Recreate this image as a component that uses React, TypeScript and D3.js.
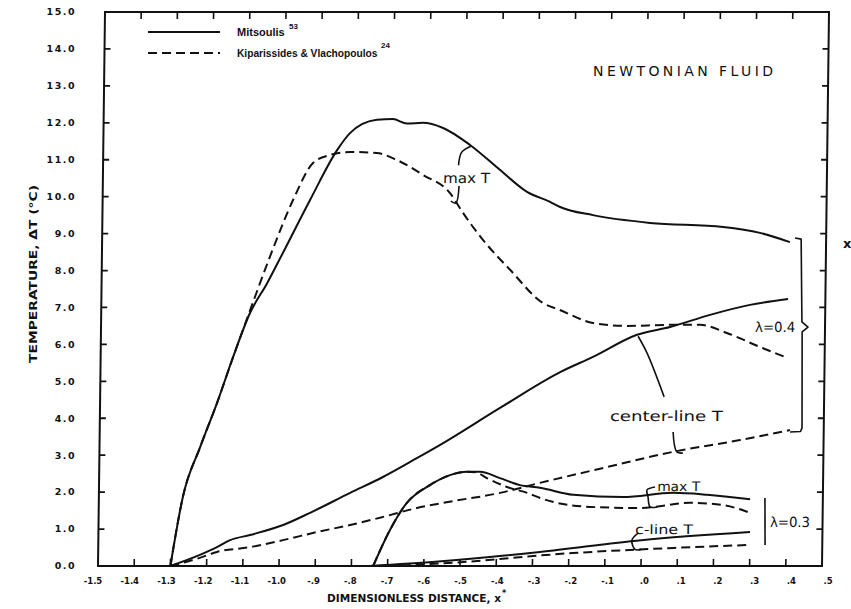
import React from "react";
import * as d3 from "d3";

type P = [number, number];

const W = 851;
const H = 609;

// ---- axis ticks ----
const xTickValues = [-1.5, -1.4, -1.3, -1.2, -1.1, -1.0, -0.9, -0.8, -0.7, -0.6, -0.5, -0.4, -0.3, -0.2, -0.1, 0.0, 0.1, 0.2, 0.3, 0.4, 0.5];
const xTickLabels = ["-1.5", "-1.4", "-1.3", "-1.2", "-1.1", "-1.0", "-.9", "-.8", "-.7", "-.6", "-.5", "-.4", "-.3", "-.2", "-.1", ".0", ".1", ".2", ".3", ".4", ".5"];
const yTickValues = [0, 1, 2, 3, 4, 5, 6, 7, 8, 9, 10, 11, 12, 13, 14, 15];
const yTickLabels = ["0.0", "1.0", "2.0", "3.0", "4.0", "5.0", "6.0", "7.0", "8.0", "9.0", "10.0", "11.0", "12.0", "13.0", "14.0", "15.0"];

// ---- series (x*, ΔT) ----
const maxT04Mitsoulis: P[] = [
  [-1.30, 0], [-1.268, 1.87], [-1.222, 3.22], [-1.177, 4.41], [-1.134, 5.66], [-1.089, 6.85],
  [-1.043, 7.65], [-1.0, 8.48], [-0.927, 9.91], [-0.854, 11.26], [-0.819, 11.72], [-0.745, 12.08],
  [-0.701, 12.1], [-0.662, 11.98], [-0.618, 12.0], [-0.562, 11.86], [-0.487, 11.4], [-0.403, 10.72],
  [-0.328, 10.13], [-0.264, 9.86], [-0.236, 9.72], [-0.145, 9.5], [0.013, 9.29], [0.215, 9.18],
  [0.317, 9.02], [0.40, 8.77],
];
const maxT04Kiparissides: P[] = [
  [-1.30, 0], [-1.268, 1.87], [-1.222, 3.22], [-1.177, 4.41], [-1.134, 5.66], [-1.095, 6.75],
  [-1.036, 8.37], [-0.974, 9.91], [-0.92, 10.91], [-0.873, 11.13], [-0.818, 11.21], [-0.744, 11.18],
  [-0.688, 10.99], [-0.616, 10.59], [-0.541, 10.1], [-0.504, 9.56], [-0.448, 8.83], [-0.372, 8.02],
  [-0.28, 7.12], [-0.233, 6.93], [-0.141, 6.58], [-0.047, 6.5], [0.072, 6.53], [0.155, 6.53],
  [0.229, 6.31], [0.321, 5.93], [0.399, 5.63],
];
const centerT04Mitsoulis: P[] = [
  [-1.30, 0], [-1.219, 0.3], [-1.172, 0.51], [-1.136, 0.7], [-1.081, 0.84], [-0.99, 1.11],
  [-0.916, 1.44], [-0.806, 1.98], [-0.716, 2.41], [-0.623, 2.92], [-0.559, 3.28], [-0.395, 4.28],
  [-0.23, 5.25], [-0.14, 5.66], [-0.019, 6.26], [0.072, 6.47], [0.182, 6.8], [0.292, 7.07], [0.397, 7.23],
];
const centerT04Kiparissides: P[] = [
  [-1.30, 0], [-1.219, 0.22], [-1.172, 0.38], [-1.081, 0.51], [-0.99, 0.7], [-0.896, 0.92],
  [-0.805, 1.11], [-0.714, 1.33], [-0.621, 1.57], [-0.549, 1.71], [-0.392, 1.98], [-0.282, 2.25],
  [-0.097, 2.68], [0.084, 3.09], [0.269, 3.41], [0.407, 3.68],
];
const maxT03Mitsoulis: P[] = [
  [-0.74, 0], [-0.695, 0.97], [-0.649, 1.71], [-0.586, 2.19], [-0.531, 2.46], [-0.484, 2.55],
  [-0.448, 2.55], [-0.393, 2.38], [-0.337, 2.19], [-0.282, 2.12], [-0.19, 1.93], [-0.052, 1.87],
  [0.086, 1.98], [0.18, 1.93], [0.299, 1.81],
];
const maxT03Kiparissides: P[] = [
  [-0.74, 0], [-0.695, 0.97], [-0.649, 1.71], [-0.586, 2.19], [-0.531, 2.46], [-0.484, 2.55],
  [-0.46, 2.54], [-0.429, 2.38], [-0.373, 2.14], [-0.317, 1.98], [-0.281, 1.84], [-0.143, 1.6],
  [-0.005, 1.57], [0.133, 1.71], [0.224, 1.65], [0.299, 1.44],
];
const cline03Mitsoulis: P[] = [[-0.75, 0], [-0.56, 0.12], [-0.28, 0.38], [0.0, 0.7], [0.3, 0.92]];
const cline03Kiparissides: P[] = [[-0.70, 0], [-0.55, 0.07], [-0.19, 0.35], [0.09, 0.49], [0.3, 0.57]];

// ---- annotation geometry (data units) ----
const leaderMaxT04Up: P[] = [[-0.518, 10.85], [-0.51, 11.2], [-0.482, 11.38]];
const leaderMaxT04Down: P[] = [[-0.516, 10.29], [-0.524, 9.83], [-0.538, 9.88]];
const leaderCenterUp: P[] = [[0.058, 4.58], [0.01, 5.75], [-0.016, 6.22]];
const leaderCenterDown: P[] = [[0.084, 3.63], [0.095, 3.09], [0.112, 3.06]];
const bracket04: P[] = [[0.414, 8.88], [0.431, 8.85], [0.436, 6.61], [0.453, 6.47], [0.437, 6.34], [0.44, 3.74], [0.436, 3.64], [0.407, 3.63]];
const hookMaxT03: P[] = [[0.036, 2.14], [0.014, 2.06], [0.017, 1.87], [0.023, 1.6], [0.042, 1.6]];
const hookCline03: P[] = [[-0.009, 0.89], [-0.026, 0.7], [-0.017, 0.45], [0.0, 0.45]];
const bar03: P[] = [[0.34, 1.84], [0.342, 0.57]];

const labels = [
  { text: "max T", at: [-0.56, 10.37] as P, w: 47, size: 14 },
  { text: "center-line T", at: [-0.091, 3.93] as P, w: 113, size: 14 },
  { text: "λ=0.4", at: [0.307, 6.34] as P, w: 40, size: 14 },
  { text: "max T", at: [0.042, 2.03] as P, w: 43, size: 13 },
  { text: "c-line T", at: [-0.018, 0.87] as P, w: 58, size: 13 },
  { text: "λ=0.3", at: [0.355, 1.06] as P, w: 40, size: 14 },
];

const INK = "#111";
const DASH = "9,5";

export default function App() {
  const x = d3.scaleLinear().domain([-1.5, 0.5]).range([98, 822]);
  const y = d3.scaleLinear().domain([0, 15]).range([566, 12]);
  const xLab = d3.scaleLinear().domain([-1.5, 0.5]).range([93, 828]);

  const curve = d3
    .line<P>()
    .x((d) => x(d[0]))
    .y((d) => y(d[1]))
    .curve(d3.curveMonotoneX);
  const smooth = d3
    .line<P>()
    .x((d) => x(d[0]))
    .y((d) => y(d[1]))
    .curve(d3.curveCatmullRom.alpha(0.5));
  const straight = d3
    .line<P>()
    .x((d) => x(d[0]))
    .y((d) => y(d[1]));

  const y0 = y(0);
  const skew = (Math.atan(7 / 554) * 180) / Math.PI;
  const skewT = `translate(0,${y0}) skewX(${-skew}) translate(0,${-y0})`;

  const x0 = x(-1.5);
  const x1 = x(0.5);
  const yTop = y(15);

  const inner = xTickValues.slice(1, -1);
  const innerY = yTickValues.slice(1, -1);

  const solid = [maxT04Mitsoulis, centerT04Mitsoulis, maxT03Mitsoulis, cline03Mitsoulis];
  const dashed = [maxT04Kiparissides, centerT04Kiparissides, maxT03Kiparissides, cline03Kiparissides];

  const tickFont = "'DejaVu Sans', sans-serif";
  const handFont = "'DejaVu Sans', sans-serif";
  const legendFont = "'Liberation Sans', Arial, sans-serif";

  return (
    <svg
      width={W}
      height={H}
      viewBox={`0 0 ${W} ${H}`}
      style={{ position: "absolute", left: 0, top: 0, background: "#fff" }}
    >
      <rect x={0} y={0} width={W} height={H} fill="#fff" />
      <g transform={skewT}>
        {/* frame */}
        <path
          d={`M${x0},${yTop} L${x1},${yTop} L${x1},${y0} L${x0},${y0} Z`}
          fill="none"
          stroke={INK}
          strokeWidth={2}
        />
        {/* ticks */}
        {inner.map((v, i) => (
          <g key={"xt" + i}>
            <line x1={x(v)} x2={x(v)} y1={y0} y2={y0 - 7} stroke={INK} strokeWidth={1.6} />
            <line x1={x(v)} x2={x(v)} y1={yTop} y2={yTop + 7} stroke={INK} strokeWidth={1.6} />
          </g>
        ))}
        {innerY.map((v, i) => (
          <g key={"yt" + i}>
            <line x1={x0} x2={x0 + 6} y1={y(v)} y2={y(v)} stroke={INK} strokeWidth={1.8} />
            <line x1={x1} x2={x1 - 6} y1={y(v)} y2={y(v)} stroke={INK} strokeWidth={1.8} />
          </g>
        ))}

        {/* curves */}
        {solid.map((s, i) => (
          <path key={"s" + i} d={curve(s) || ""} fill="none" stroke={INK} strokeWidth={2} />
        ))}
        {dashed.map((s, i) => (
          <path
            key={"d" + i}
            d={curve(s) || ""}
            fill="none"
            stroke={INK}
            strokeWidth={2}
            strokeDasharray={DASH}
          />
        ))}

        {/* annotations */}
        {[leaderMaxT04Up, leaderMaxT04Down, leaderCenterUp, leaderCenterDown, hookMaxT03, hookCline03].map((a, i) => (
          <path key={"a" + i} d={smooth(a) || ""} fill="none" stroke={INK} strokeWidth={1.6} />
        ))}
        <path d={straight(bracket04) || ""} fill="none" stroke={INK} strokeWidth={1.6} strokeLinejoin="round" />
        <path d={straight(bar03) || ""} fill="none" stroke={INK} strokeWidth={1.6} />
        {labels.map((l, i) => (
          <text
            key={"l" + i}
            x={x(l.at[0])}
            y={y(l.at[1])}
            fontFamily={handFont}
            fontSize={l.size}
            fill={INK}
            textLength={l.w}
            lengthAdjust="spacingAndGlyphs"
          >
            {l.text}
          </text>
        ))}
      </g>

      {/* tick labels */}
      {xTickValues.map((v, i) => (
        <text
          key={"xl" + i}
          x={xLab(v)}
          y={584}
          textAnchor="middle"
          fontFamily={tickFont}
          fontWeight="bold"
          fontSize={8.5}
          fill={INK}
        >
          {xTickLabels[i]}
        </text>
      ))}
      {yTickValues.map((v, i) => (
        <text
          key={"yl" + i}
          x={76}
          y={y(v)}
          dy="0.35em"
          textAnchor="end"
          fontFamily={tickFont}
          fontWeight="bold"
          fontSize={9.5}
          letterSpacing={1.5}
          fill={INK}
        >
          {yTickLabels[i]}
        </text>
      ))}

      {/* axis titles */}
      <text
        x={327}
        y={602}
        fontFamily={tickFont}
        fontWeight="bold"
        fontSize={10.5}
        fill={INK}
        textLength={174}
        lengthAdjust="spacingAndGlyphs"
      >
        DIMENSIONLESS DISTANCE, x
      </text>
      <text x={502} y={596} fontFamily={tickFont} fontWeight="bold" fontSize={8} fill={INK}>
        *
      </text>
      <text
        transform="translate(37,274) rotate(-90)"
        textAnchor="middle"
        fontFamily={tickFont}
        fontWeight="bold"
        fontSize={10}
        fill={INK}
        textLength={178}
        lengthAdjust="spacingAndGlyphs"
      >
        TEMPERATURE, ΔT (°C)
      </text>

      {/* legend */}
      <line x1={148} x2={220} y1={32} y2={32} stroke={INK} strokeWidth={2} />
      <line x1={148} x2={220} y1={53} y2={53} stroke={INK} strokeWidth={2} strokeDasharray={DASH} />
      <text x={237} y={36} fontFamily={legendFont} fontWeight="bold" fontSize={11} fill={INK}>
        Mitsoulis
      </text>
      <text x={289} y={29} fontFamily={legendFont} fontWeight="bold" fontSize={8} fill={INK}>
        53
      </text>
      <text x={237} y={57} fontFamily={legendFont} fontWeight="bold" fontSize={10.2} fill={INK}>
        Kiparissides &amp; Vlachopoulos
      </text>
      <text x={381} y={48} fontFamily={legendFont} fontWeight="bold" fontSize={8} fill={INK}>
        24
      </text>

      {/* title inside plot */}
      <text x={593} y={76} fontFamily={tickFont} fontSize={14} fill={INK} textLength={180} lengthAdjust="spacing">
        NEWTONIAN FLUID
      </text>

      {/* stray mark at right edge */}
      <text x={843} y={248} fontFamily={tickFont} fontWeight="bold" fontSize={13} fill={INK}>
        x
      </text>
    </svg>
  );
}
